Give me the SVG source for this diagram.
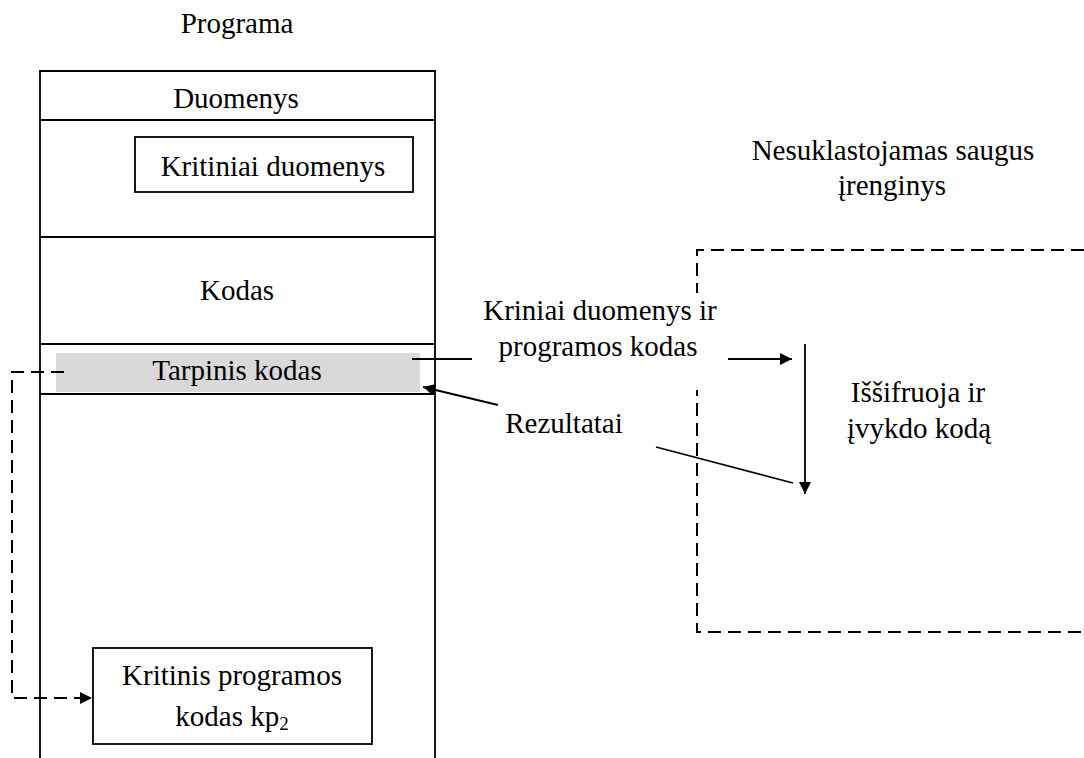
<svg xmlns="http://www.w3.org/2000/svg" width="1084" height="758" viewBox="0 0 1084 758">
  <style>
    text { font-family: "Liberation Serif", "Times New Roman", serif; font-size: 29px; fill: #000; text-anchor: middle; }
    .ln { stroke: #000; stroke-width: 1.8; fill: none; }
    .box { stroke: #000; stroke-width: 1.8; fill: #fff; }
    .dash { stroke: #000; stroke-width: 2; fill: none; stroke-dasharray: 13 7; }
    .sub { font-size: 19px; }
  </style>
  <defs>
    <marker id="arrow" viewBox="0 0 12 12" refX="12" refY="6" markerWidth="12" markerHeight="12" markerUnits="userSpaceOnUse" orient="auto">
      <path d="M0,0 L12,6 L0,12 Z" fill="#000"/>
    </marker>
  </defs>

  <rect width="1084" height="758" fill="#fff"/>

  <!-- program memory layout -->
  <g id="programa">
    <text x="237" y="33">Programa</text>
    <path class="ln" d="M40,758 V71 H435 V758"/>
    <line class="ln" x1="40" y1="120" x2="435" y2="120"/>
    <line class="ln" x1="40" y1="237" x2="435" y2="237"/>
    <line class="ln" x1="40" y1="344" x2="435" y2="344"/>
    <line class="ln" x1="40" y1="394" x2="435" y2="394"/>
  </g>

  <g id="duomenys">
    <text x="236" y="108">Duomenys</text>
  </g>

  <g id="kritiniai-duomenys">
    <rect class="box" x="135" y="137" width="278" height="55"/>
    <text x="273" y="176">Kritiniai duomenys</text>
  </g>

  <g id="kodas">
    <text x="237" y="300">Kodas</text>
  </g>

  <g id="tarpinis-kodas">
    <rect x="56" y="353" width="364" height="39" fill="#d9d9d9"/>
    <text x="237" y="380">Tarpinis kodas</text>
  </g>

  <g id="kritinis-kodas">
    <rect class="box" x="93" y="648" width="279" height="96"/>
    <text x="232" y="685">Kritinis programos</text>
    <text x="232" y="726">kodas kp<tspan class="sub" dy="4">2</tspan></text>
  </g>

  <!-- tamper-proof secure device -->
  <g id="irenginys">
    <text x="893" y="160">Nesuklastojamas saugus</text>
    <text x="892" y="195">įrenginys</text>
    <path class="dash" d="M1084,250 H697 V632 H1084"/>
  </g>

  <g id="issifruoja">
    <text x="918" y="402">Iššifruoja ir</text>
    <text x="919" y="438">įvykdo kodą</text>
  </g>

  <!-- connectors -->
  <g id="connectors">
    <line class="ln" x1="412" y1="359" x2="472" y2="359"/>
    <!-- label block for the outgoing transfer, opaque over the device border -->
    <rect x="472" y="293" width="256" height="97" fill="#fff"/>
    <text x="600" y="320">Kriniai duomenys ir</text>
    <text x="598" y="356">programos kodas</text>
    <line class="ln" x1="728" y1="359" x2="792" y2="359" marker-end="url(#arrow)"/>

    <line class="ln" x1="805" y1="344" x2="805" y2="494" marker-end="url(#arrow)"/>

    <line class="ln" x1="793" y1="483" x2="656" y2="447"/>
    <text x="564" y="433">Rezultatai</text>
    <line class="ln" x1="498" y1="405" x2="423" y2="387" marker-end="url(#arrow)"/>

    <path class="dash" d="M64,372 H12 V698 H92" marker-end="url(#arrow)"/>
  </g>
</svg>
